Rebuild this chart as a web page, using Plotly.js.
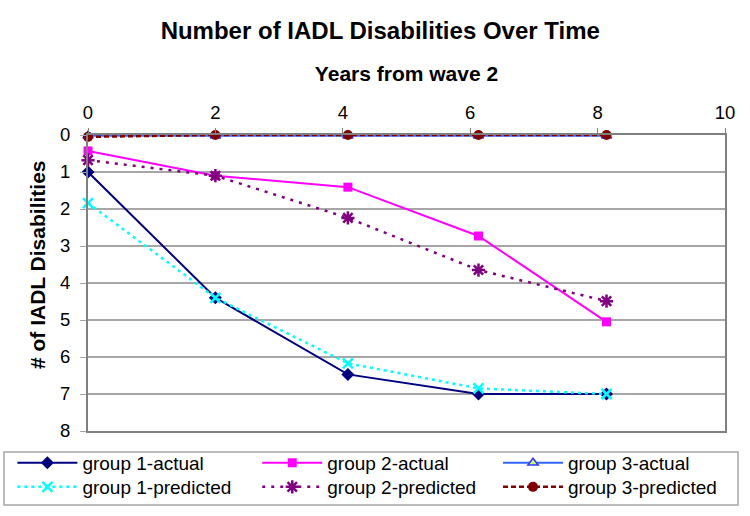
<!DOCTYPE html>
<html>
<head>
<meta charset="utf-8">
<script src="https://cdn.plot.ly/plotly-3.0.1.min.js"></script>
<style>
  html, body { margin: 0; padding: 0; background: #fff; }
  #plot-area { width: 750px; height: 516px; }
</style>
</head>
<body>
<div id="plot-area"></div>
<script>
// years from wave 2 (points sit a little right of the even ticks)
var years = [0, 2, 4.08, 6.13, 8.14];

var group1Actual    = [1.0, 4.4, 6.47, 7.0, 7.0];
var group2Actual    = [0.43, 1.1, 1.41, 2.73, 5.05];
var group3Actual    = [0.02, 0.02, 0.02, 0.02, 0.02];
var group1Predicted = [1.84, 4.4, 6.17, 6.85, 7.0];
var group2Predicted = [0.68, 1.1, 2.24, 3.65, 4.49];
var group3Predicted = [0.05, 0.0, 0.0, 0.0, 0.0];

var yTicks = [0, 1, 2, 3, 4, 5, 6, 7, 8];
var xTicks = [0, 2, 4, 6, 8, 10];

// legend grid: 3 columns (group), 2 rows (actual / predicted), in container fractions
var legendColX = [0.0165, 0.343, 0.664];
var legendRowY = [1 - 444 / 516, 1 - 468 / 516];

function MakeTrace(name, yValues, legendId, lineStyle, markerStyle) {
    return {
        x: years,
        y: yValues,
        mode: "lines+markers",
        name: name,
        legend: legendId,
        line: lineStyle,
        marker: markerStyle,
        cliponaxis: false
    };
}

function MakeLegend(col, row) {
    return {
        xref: "container", yref: "container",
        x: legendColX[col], xanchor: "left",
        y: legendRowY[row], yanchor: "top",
        bgcolor: "rgba(0,0,0,0)",
        borderwidth: 0,
        itemwidth: 60,
        font: {size: 19}
    };
}

function DrawPlot() {
    var data = [
        MakeTrace("group 1-actual", group1Actual, "legend",
            {color: "#000080", width: 2},
            {symbol: "diamond", size: 10, color: "#000080"}),
        MakeTrace("group 2-actual", group2Actual, "legend2",
            {color: "#FF00FF", width: 2},
            {symbol: "square", size: 9, color: "#FF00FF"}),
        MakeTrace("group 3-actual", group3Actual, "legend3",
            {color: "#3366FF", width: 2},
            {symbol: "triangle-up", size: 9, color: "#CCFF66", line: {color: "#3333FF", width: 1.5}}),
        MakeTrace("group 1-predicted", group1Predicted, "legend4",
            {color: "#00FFFF", width: 2.5, dash: "3px,4px"},
            {symbol: "x-thin-open", size: 10, color: "#00FFFF", line: {color: "#00FFFF", width: 2.5}}),
        MakeTrace("group 2-predicted", group2Predicted, "legend5",
            {color: "#800080", width: 2.5, dash: "3px,6px"},
            {symbol: "asterisk-open", size: 11, color: "#800080", line: {color: "#800080", width: 2.5}}),
        MakeTrace("group 3-predicted", group3Predicted, "legend6",
            {color: "#800000", width: 2.5, dash: "5px,3px"},
            {symbol: "circle", size: 10, color: "#800000"})
    ];

    var layout = {
        width: 750,
        height: 516,
        margin: {l: 88, r: 25, t: 135, b: 85, autoexpand: false},
        paper_bgcolor: "#fff",
        plot_bgcolor: "#fff",
        font: {family: "Liberation Sans, Arial, sans-serif", color: "#000"},
        title: {
            text: "<b>Number of IADL Disabilities Over Time</b>",
            font: {size: 24},
            x: 0.507, xanchor: "center",
            y: 0.94, yanchor: "middle"
        },
        xaxis: {
            side: "top",
            range: [0, 10],
            tickvals: xTicks,
            showgrid: false,
            zeroline: false,
            showline: true,
            linecolor: "#808080",
            linewidth: 2,
            mirror: true,
            ticks: "outside",
            ticklen: 5,
            tickcolor: "#808080",
            ticklabelstandoff: 2,
            tickfont: {size: 18.5},
            title: {text: "<b>Years from wave 2</b>", font: {size: 21}, standoff: 14}
        },
        yaxis: {
            range: [8, 0],
            tickvals: yTicks,
            showgrid: true,
            gridcolor: "#A6A6A6",
            gridwidth: 1.5,
            zeroline: false,
            showline: true,
            linecolor: "#808080",
            linewidth: 2,
            mirror: true,
            ticks: "outside",
            ticklen: 6,
            tickcolor: "#A6A6A6",
            ticklabelstandoff: 6,
            tickfont: {size: 18.5}
        },
        annotations: [{
            text: "<b># of IADL Disabilities</b>",
            xref: "paper", yref: "paper",
            x: (37 - 88) / 637, y: (431 - 265) / 296,
            xanchor: "center", yanchor: "middle",
            textangle: -90,
            showarrow: false,
            font: {size: 21}
        }],
        shapes: [{
            type: "rect",
            xref: "paper", yref: "paper",
            x0: (4 - 88) / 637, x1: (738 - 88) / 637,
            y0: (431 - 505) / 296, y1: (431 - 452) / 296,
            line: {color: "#A6A6A6", width: 1.5},
            fillcolor: "rgba(0,0,0,0)"
        }],
        showlegend: true,
        legend: MakeLegend(0, 0),
        legend2: MakeLegend(1, 0),
        legend3: MakeLegend(2, 0),
        legend4: MakeLegend(0, 1),
        legend5: MakeLegend(1, 1),
        legend6: MakeLegend(2, 1)
    };

    Plotly.newPlot("plot-area", data, layout, {displayModeBar: false, staticPlot: true});
}

DrawPlot();
</script>
</body>
</html>
